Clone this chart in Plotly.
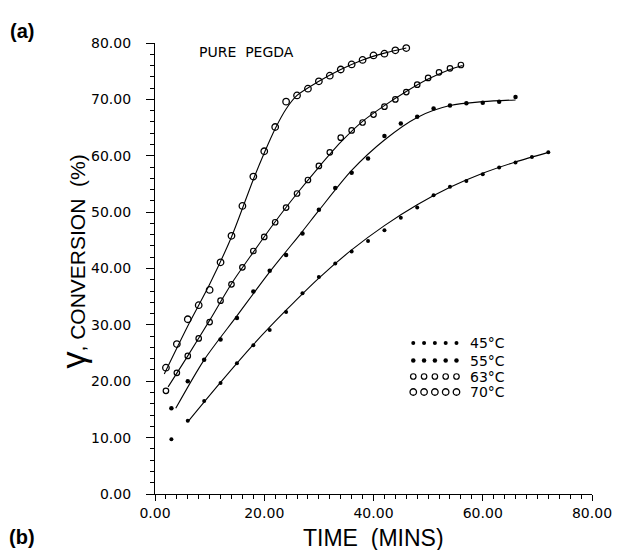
import plotly.graph_objects as go

# ---- measured data (time in min, conversion in %) ----
time_45 = [3, 6, 9, 12, 15, 18, 21, 24, 27, 30, 33, 36, 39, 42, 45, 48, 51, 54, 57, 60, 63, 66, 69, 72]
conv_45 = [9.7, 13.0, 16.5, 19.7, 23.2, 26.4, 29.1, 32.3, 35.6, 38.5, 40.9, 43.0, 44.9, 46.8, 49.0, 50.8,
           53.0, 54.5, 55.5, 56.7, 57.9, 58.8, 59.8, 60.6]

time_55 = [3, 6, 9, 12, 15, 18, 21, 24, 27, 30, 33, 36, 39, 42, 45, 48, 51, 54, 57, 60, 63, 66]
conv_55 = [15.2, 20.0, 23.8, 27.4, 31.2, 35.9, 39.6, 42.4, 46.2, 50.4, 54.3, 57.0, 59.5, 63.5, 65.7, 66.9,
           68.4, 68.9, 69.3, 69.4, 69.6, 70.4]

time_63 = [2, 4, 6, 8, 10, 12, 14, 16, 18, 20, 22, 24, 26, 28, 30, 32, 34, 36, 38, 40, 42, 44, 46, 48, 50, 52, 54, 56]
conv_63 = [18.3, 21.5, 24.5, 27.6, 30.5, 34.3, 37.2, 40.2, 43.1, 45.6, 48.2, 50.8, 53.3, 55.7, 58.2, 60.6,
           63.2, 64.5, 65.9, 67.3, 68.7, 70.0, 71.3, 72.6, 73.8, 74.8, 75.5, 76.1]

time_70 = [2, 4, 6, 8, 10, 12, 14, 16, 18, 20, 22, 24, 26, 28, 30, 32, 34, 36, 38, 40, 42, 44, 46]
conv_70 = [22.4, 26.6, 31.0, 33.5, 36.2, 41.1, 45.8, 51.1, 56.3, 60.8, 65.1, 69.6, 70.7, 71.9, 73.2, 74.2,
           75.3, 76.2, 77.0, 77.8, 78.1, 78.7, 79.1]

# ---- fitted curves as drawn in the figure ----
fit_45_t = [6, 12, 18, 24, 30, 36, 42, 48, 54, 60, 66, 72]
fit_45_c = [12.8, 19.8, 26.5, 32.6, 38.3, 43.3, 47.6, 51.3, 54.4, 56.9, 58.9, 60.6]

fit_55_t = [3.8, 9, 15, 21, 27, 30, 36, 42, 48, 54, 60, 66]
fit_55_c = [15.2, 23.8, 31.6, 39.4, 46.6, 50.3, 57.4, 62.8, 66.8, 68.9, 69.6, 69.9]

fit_63_t = [2.4, 6, 10, 14, 18, 22, 26, 30, 34, 38, 42, 46, 50, 54, 56.3]
fit_63_c = [19.0, 24.5, 30.8, 37.3, 42.9, 48.3, 53.3, 58.0, 62.4, 66.1, 68.9, 71.4, 73.6, 75.3, 76.0]

fit_70_t = [1.7, 6, 10, 14, 18, 20, 22, 24, 26, 30, 34, 38, 42, 46]
fit_70_c = [21.3, 29.8, 37.2, 45.6, 55.8, 60.5, 64.8, 68.3, 70.7, 73.2, 75.3, 77.0, 78.2, 79.1]

series_names = ["45°C", "55°C", "63°C", "70°C"]
x_ticks = [0, 20, 40, 60, 80]
y_ticks = [0, 10, 20, 30, 40, 50, 60, 70, 80]

markers = {
    "45°C": dict(symbol="circle", size=4, color="black"),
    "55°C": dict(symbol="circle", size=4.5, color="black"),
    "63°C": dict(symbol="circle-open", size=5.5, color="black", line=dict(width=1.2)),
    "70°C": dict(symbol="circle-open", size=6.5, color="black", line=dict(width=1.3)),
}

data = [
    ("45°C", time_45, conv_45, fit_45_t, fit_45_c),
    ("55°C", time_55, conv_55, fit_55_t, fit_55_c),
    ("63°C", time_63, conv_63, fit_63_t, fit_63_c),
    ("70°C", time_70, conv_70, fit_70_t, fit_70_c),
]

fig = go.Figure()
for name, t, c, ft, fc in data:
    fig.add_trace(go.Scatter(x=ft, y=fc, mode="lines",
                             line=dict(color="black", width=1.1, shape="spline", smoothing=0.8),
                             showlegend=False, hoverinfo="skip"))
    fig.add_trace(go.Scatter(x=t, y=c, mode="markers", marker=markers[name], name=name,
                             showlegend=False, cliponaxis=False))

# ---- hand-drawn style legend (rows of five symbols), on an overlay pixel axis ----
L, R, T, B = 155, 24, 43, 56
W, H = 624, 550
row_y = [343, 360.5, 376.5, 392]
for i, name in enumerate(series_names):
    xs = [418 + 11 * k for k in range(5)]
    mk = dict(markers[name])
    fig.add_trace(go.Scatter(x=xs, y=[row_y[i]] * 5, mode="markers", marker=mk,
                             xaxis="x2", yaxis="y2", showlegend=False, hoverinfo="skip",
                             cliponaxis=False))

font_family = "DejaVu Sans"
title_family = "Liberation Sans"
annotations = []
for i, name in enumerate(series_names):
    annotations.append(dict(x=474, y=row_y[i], xref="x2", yref="y2", text=name, showarrow=False,
                            xanchor="left", yanchor="middle",
                            font=dict(size=14, color="black", family=font_family)))


def px(xp):
    return (xp - L) / (W - L - R)


def py(yp):
    return (H - B - yp) / (H - T - B)


annotations += [
    dict(x=px(198), y=py(52), xref="paper", yref="paper", text="PURE  PEGDA", showarrow=False,
         xanchor="left", yanchor="middle", font=dict(size=14, color="black", family=font_family)),
    dict(x=px(71), y=py(262), xref="paper", yref="paper",
         text='<span style="font-size:34px">γ</span>, CONVERSION  (%)', textangle=-90, showarrow=False,
         xanchor="center", yanchor="middle",
         font=dict(size=21, color="black", family=title_family)),
    dict(x=px(378), y=py(538), xref="paper", yref="paper", text="TIME  (MINS)", showarrow=False,
         xanchor="center", yanchor="middle",
         font=dict(size=23, color="black", family=title_family)),
    dict(x=px(20), y=py(31), xref="paper", yref="paper", text="<b>(a)</b>", showarrow=False,
         xanchor="center", yanchor="middle", font=dict(size=20, color="black", family=title_family)),
    dict(x=px(20), y=py(537), xref="paper", yref="paper", text="<b>(b)</b>", showarrow=False,
         xanchor="center", yanchor="middle", font=dict(size=20, color="black", family=title_family)),
]

axis_common = dict(showgrid=False, zeroline=False, showline=True, linecolor="black", linewidth=1.2,
                   ticks="outside", tickwidth=1.2, tickcolor="black", tickformat=".2f",
                   tickfont=dict(size=14, color="black", family=font_family),
                   minor=dict(ticks="outside", ticklen=4, tickwidth=1, tickcolor="black", dtick=2))

fig.update_layout(
    width=W, height=H,
    margin=dict(l=L, r=R, t=T, b=B),
    paper_bgcolor="white", plot_bgcolor="white",
    xaxis=dict(range=[0, 80], tickvals=x_ticks, ticklen=6, ticklabelstandoff=0, **axis_common),
    yaxis=dict(range=[0, 80], tickvals=y_ticks, ticklen=8, ticklabelstandoff=12, **axis_common),
    xaxis2=dict(range=[L, W - R], overlaying="x", visible=False, fixedrange=True),
    yaxis2=dict(range=[H - B, T], overlaying="y", visible=False, fixedrange=True),
    annotations=annotations,
    showlegend=False,
)

fig.write_html("out.html")
